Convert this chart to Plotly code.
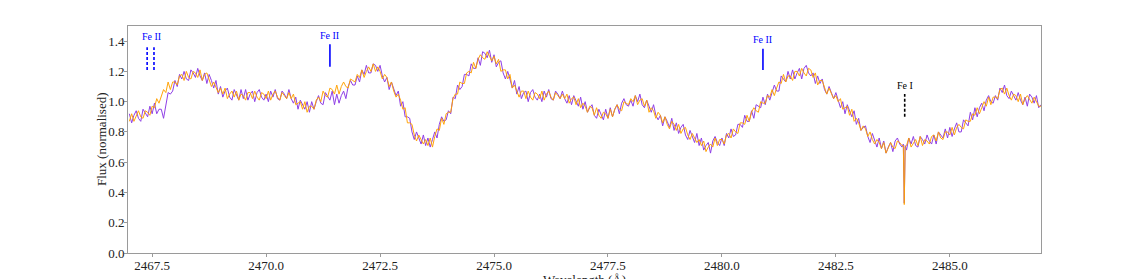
import numpy as np
import plotly.graph_objects as go

# Wavelength grid (Å), 0.05 Å steps
wl_start, wl_stop, wl_step = 2467.0, 2487.0, 0.05

flux_purple = [
    0.92, 0.86, 0.91, 0.94, 0.89, 0.87, 0.95, 0.92, 0.90, 0.97,
    0.92, 0.99, 0.92, 0.95, 0.95, 0.89, 0.99, 1.06, 1.05, 1.07,
    1.14, 1.10, 1.18, 1.15, 1.20, 1.15, 1.14, 1.21, 1.19, 1.16,
    1.22, 1.17, 1.14, 1.19, 1.12, 1.18, 1.14, 1.09, 1.14, 1.05,
    1.10, 1.03, 1.07, 1.09, 1.03, 1.01, 1.08, 1.04, 1.01, 1.08,
    1.02, 1.08, 1.01, 1.05, 1.07, 1.00, 1.06, 1.08, 1.03, 1.01,
    1.05, 1.00, 1.07, 1.03, 1.08, 1.02, 1.01, 1.07, 1.05, 1.02,
    1.08, 1.02, 0.99, 1.03, 0.95, 1.01, 0.98, 0.95, 1.00, 0.93,
    1.00, 0.95, 1.00, 1.04, 0.99, 0.98, 1.06, 1.03, 1.01, 1.07,
    0.98, 1.05, 0.99, 1.04, 1.07, 1.02, 1.10, 1.14, 1.11, 1.11,
    1.17, 1.13, 1.21, 1.18, 1.24, 1.19, 1.19, 1.25, 1.24, 1.20,
    1.24, 1.17, 1.13, 1.16, 1.08, 1.13, 1.09, 1.04, 1.07, 0.97,
    1.00, 0.90, 0.90, 0.89, 0.80, 0.75, 0.80, 0.76, 0.72, 0.78,
    0.71, 0.76, 0.70, 0.75, 0.80, 0.76, 0.85, 0.90, 0.87, 0.88,
    0.94, 0.92, 1.03, 1.02, 1.11, 1.08, 1.10, 1.18, 1.18, 1.17,
    1.25, 1.22, 1.22, 1.29, 1.24, 1.33, 1.32, 1.29, 1.34, 1.26,
    1.31, 1.23, 1.26, 1.27, 1.19, 1.15, 1.20, 1.15, 1.09, 1.14,
    1.05, 1.10, 1.02, 1.06, 1.07, 1.00, 1.06, 1.08, 1.03, 1.01,
    1.05, 1.00, 1.07, 1.03, 1.08, 1.02, 1.01, 1.07, 1.05, 1.02,
    1.07, 1.02, 0.99, 1.04, 0.98, 1.04, 1.01, 0.97, 1.03, 0.95,
    1.00, 0.93, 0.96, 0.98, 0.91, 0.89, 0.95, 0.92, 0.88, 0.95,
    0.89, 0.96, 0.90, 0.95, 0.98, 0.92, 0.99, 1.02, 0.98, 0.97,
    1.01, 0.97, 1.04, 1.00, 1.05, 0.98, 0.96, 1.01, 0.97, 0.93,
    0.98, 0.91, 0.88, 0.91, 0.84, 0.90, 0.87, 0.83, 0.89, 0.81,
    0.86, 0.79, 0.83, 0.85, 0.78, 0.75, 0.81, 0.77, 0.73, 0.79,
    0.71, 0.76, 0.68, 0.71, 0.73, 0.66, 0.74, 0.77, 0.73, 0.71,
    0.76, 0.71, 0.79, 0.76, 0.82, 0.77, 0.78, 0.85, 0.85, 0.83,
    0.91, 0.87, 0.87, 0.94, 0.89, 0.98, 0.97, 0.96, 1.03, 0.98,
    1.05, 1.01, 1.06, 1.11, 1.07, 1.07, 1.17, 1.15, 1.13, 1.20,
    1.15, 1.21, 1.15, 1.19, 1.22, 1.15, 1.22, 1.24, 1.19, 1.17,
    1.19, 1.12, 1.17, 1.12, 1.15, 1.08, 1.05, 1.10, 1.06, 1.02,
    1.06, 1.00, 0.96, 1.00, 0.92, 0.98, 0.94, 0.90, 0.94, 0.85,
    0.89, 0.81, 0.83, 0.84, 0.77, 0.73, 0.79, 0.75, 0.70, 0.76,
    0.69, 0.74, 0.66, 0.70, 0.73, 0.67, 0.74, 0.76, 0.72, 0.70,
    0.33, 0.68, 0.76, 0.72, 0.77, 0.71, 0.70, 0.77, 0.75, 0.72,
    0.78, 0.74, 0.72, 0.78, 0.72, 0.80, 0.78, 0.76, 0.82, 0.76,
    0.83, 0.77, 0.82, 0.86, 0.80, 0.80, 0.88, 0.86, 0.84, 0.93,
    0.88, 0.96, 0.90, 0.96, 0.99, 0.94, 1.01, 1.04, 1.00, 0.99,
    1.04, 1.01, 1.09, 1.06, 1.11, 1.04, 1.02, 1.07, 1.04, 1.01,
    1.06, 1.01, 0.98, 1.03, 0.97, 1.05, 1.03, 0.99, 1.04, 0.96,
    0.98,
]

flux_orange = [
    0.87, 0.92, 0.87, 0.91, 0.94, 0.90, 0.89, 0.94, 0.93, 0.91,
    0.97, 0.96, 1.02, 0.99, 1.04, 1.08, 1.06, 1.13, 1.08, 1.13,
    1.13, 1.11, 1.17, 1.18, 1.14, 1.20, 1.16, 1.15, 1.20, 1.19,
    1.16, 1.21, 1.14, 1.18, 1.19, 1.14, 1.10, 1.13, 1.10, 1.06,
    1.09, 1.05, 1.09, 1.02, 1.05, 1.07, 1.03, 1.07, 1.01, 1.05,
    1.04, 1.01, 1.06, 1.06, 1.02, 1.07, 1.03, 1.01, 1.06, 1.05,
    1.02, 1.07, 1.01, 1.05, 1.07, 1.03, 1.01, 1.06, 1.04, 1.02,
    1.06, 1.02, 1.05, 0.98, 0.99, 1.00, 0.95, 1.00, 0.93, 0.97,
    0.97, 0.95, 1.01, 1.03, 1.00, 1.07, 1.04, 1.03, 1.09, 1.08,
    1.05, 1.11, 1.05, 1.10, 1.13, 1.10, 1.09, 1.15, 1.14, 1.13,
    1.18, 1.16, 1.21, 1.16, 1.20, 1.23, 1.20, 1.25, 1.20, 1.23,
    1.20, 1.15, 1.18, 1.16, 1.10, 1.13, 1.07, 1.03, 1.05, 1.01,
    0.95, 0.96, 0.86, 0.86, 0.85, 0.78, 0.74, 0.78, 0.75, 0.72,
    0.75, 0.71, 0.76, 0.70, 0.77, 0.82, 0.81, 0.89, 0.85, 0.92,
    0.93, 0.93, 1.02, 1.05, 1.05, 1.13, 1.12, 1.12, 1.19, 1.20,
    1.19, 1.26, 1.22, 1.28, 1.31, 1.29, 1.28, 1.33, 1.30, 1.27,
    1.30, 1.25, 1.28, 1.20, 1.21, 1.21, 1.15, 1.18, 1.09, 1.11,
    1.07, 1.03, 1.07, 1.07, 1.02, 1.07, 1.03, 1.01, 1.06, 1.05,
    1.02, 1.07, 1.01, 1.05, 1.07, 1.03, 1.01, 1.06, 1.04, 1.02,
    1.05, 1.02, 1.05, 0.99, 1.02, 1.03, 0.98, 1.02, 0.96, 0.99,
    0.97, 0.93, 0.97, 0.96, 0.91, 0.96, 0.91, 0.89, 0.93, 0.92,
    0.89, 0.95, 0.90, 0.95, 0.98, 0.95, 0.94, 1.00, 0.99, 0.98,
    1.02, 1.00, 1.04, 0.98, 1.01, 1.02, 0.97, 1.01, 0.93, 0.96,
    0.94, 0.89, 0.93, 0.91, 0.86, 0.90, 0.85, 0.82, 0.87, 0.85,
    0.81, 0.85, 0.79, 0.82, 0.83, 0.78, 0.75, 0.79, 0.76, 0.73,
    0.75, 0.71, 0.74, 0.67, 0.70, 0.72, 0.70, 0.76, 0.71, 0.75,
    0.75, 0.72, 0.78, 0.79, 0.76, 0.82, 0.80, 0.79, 0.86, 0.86,
    0.85, 0.91, 0.87, 0.93, 0.96, 0.94, 0.93, 1.00, 0.99, 0.99,
    1.04, 1.03, 1.08, 1.04, 1.09, 1.13, 1.12, 1.18, 1.13, 1.17,
    1.17, 1.14, 1.20, 1.20, 1.17, 1.22, 1.19, 1.17, 1.22, 1.21,
    1.16, 1.19, 1.11, 1.14, 1.14, 1.09, 1.05, 1.09, 1.05, 1.02,
    1.04, 1.00, 1.02, 0.95, 0.96, 0.97, 0.91, 0.95, 0.87, 0.89,
    0.86, 0.81, 0.84, 0.82, 0.77, 0.80, 0.75, 0.72, 0.75, 0.73,
    0.69, 0.73, 0.66, 0.70, 0.73, 0.70, 0.69, 0.74, 0.73, 0.71,
    0.32, 0.71, 0.76, 0.70, 0.73, 0.75, 0.71, 0.77, 0.71, 0.75,
    0.74, 0.72, 0.77, 0.78, 0.74, 0.80, 0.76, 0.75, 0.80, 0.80,
    0.78, 0.83, 0.78, 0.83, 0.85, 0.83, 0.82, 0.88, 0.87, 0.87,
    0.92, 0.91, 0.96, 0.92, 0.96, 1.00, 0.97, 1.03, 0.98, 1.03,
    1.03, 1.02, 1.08, 1.09, 1.05, 1.09, 1.04, 1.01, 1.05, 1.04,
    1.00, 1.05, 0.98, 1.02, 1.04, 1.01, 0.99, 1.03, 1.00, 0.97,
    0.97,
]

# narrow Fe I absorption flanks
dip_wl = [2483.98, 2484.02]
dip_purple = [0.72, 0.71]
dip_orange = [0.71, 0.70]

# line identifications
line_labels = ["Fe II", "Fe II", "Fe II", "Fe I"]
line_wl = [[2467.39, 2467.54], [2471.40], [2480.90], [2484.01]]
line_label_x = [2467.48, 2471.40, 2480.90, 2484.01]
line_y0 = [1.21, 1.23, 1.21, 0.90]
line_y1 = [1.36, 1.38, 1.35, 1.05]
label_y = [1.43, 1.44, 1.41, 1.11]
line_colors = ["blue", "blue", "blue", "black"]
line_dash = ["3px,2px", "solid", "solid", "3px,2px"]

y_ticks = [0.0, 0.2, 0.4, 0.6, 0.8, 1.0, 1.2, 1.4]
x_ticks = [2467.5, 2470.0, 2472.5, 2475.0, 2477.5, 2480.0, 2482.5, 2485.0]

wl = np.round(np.arange(wl_start, wl_stop + wl_step / 2, wl_step), 3)
wl_all = np.concatenate([wl, dip_wl])
order = np.argsort(wl_all, kind="stable")
wl_all = wl_all[order]
p_all = np.concatenate([flux_purple, dip_purple])[order]
o_all = np.concatenate([flux_orange, dip_orange])[order]

FONT = "Liberation Serif, Times New Roman, serif"
fig = go.Figure()
fig.add_trace(go.Scatter(x=wl_all, y=p_all, mode="lines",
                         line=dict(color="#8f3fe6", width=1.0), showlegend=False))
fig.add_trace(go.Scatter(x=wl_all, y=o_all, mode="lines",
                         line=dict(color="#ffa100", width=1.0), opacity=0.95,
                         showlegend=False))

for lab, xs, lx, y0, y1, ly, c, d in zip(line_labels, line_wl, line_label_x,
                                         line_y0, line_y1, label_y, line_colors, line_dash):
    for xv in xs:
        fig.add_shape(type="line", x0=xv, x1=xv, y0=y0, y1=y1, xref="x", yref="y",
                      line=dict(color=c, width=1.6, dash=d))
    fig.add_annotation(x=lx, y=ly, text=lab, showarrow=False, xref="x", yref="y",
                       font=dict(family=FONT, size=10, color=c), yanchor="middle")

axis_common = dict(showgrid=False, zeroline=False, showline=True, linecolor="#9a9a9a",
                   linewidth=1, mirror=True, ticks="outside", ticklen=3, tickwidth=1,
                   tickcolor="#9a9a9a", automargin=False,
                   tickfont=dict(family=FONT, size=13, color="#222"))

fig.update_xaxes(range=[2466.97, 2487.0], tickvals=x_ticks,
                 ticktext=[f"{v:.1f}" for v in x_ticks], ticklabelstandoff=-3,
                 **axis_common)
fig.update_yaxes(range=[0, 1.5], tickvals=y_ticks,
                 ticktext=[f"{v:.1f}" for v in y_ticks], ticklabelstandoff=-3,
                 **axis_common)

fig.add_annotation(x=0.5, y=0, xref="paper", yref="paper", text="Wavelength (Å)",
                   showarrow=False, yanchor="top", yshift=-17,
                   font=dict(family=FONT, size=13, color="#222"))
fig.add_annotation(x=0, y=0.5, xref="paper", yref="paper", text="Flux (normalised)",
                   showarrow=False, xanchor="right", xshift=-17, textangle=-90,
                   font=dict(family=FONT, size=13, color="#222"))

# page body adds an 8px offset; size the figure to land the plot area where the reference has it
fig.update_layout(width=1132, height=271, paper_bgcolor="white", plot_bgcolor="white",
                  margin=dict(l=120, r=99, t=18, b=26))

fig.write_html("out.html")
